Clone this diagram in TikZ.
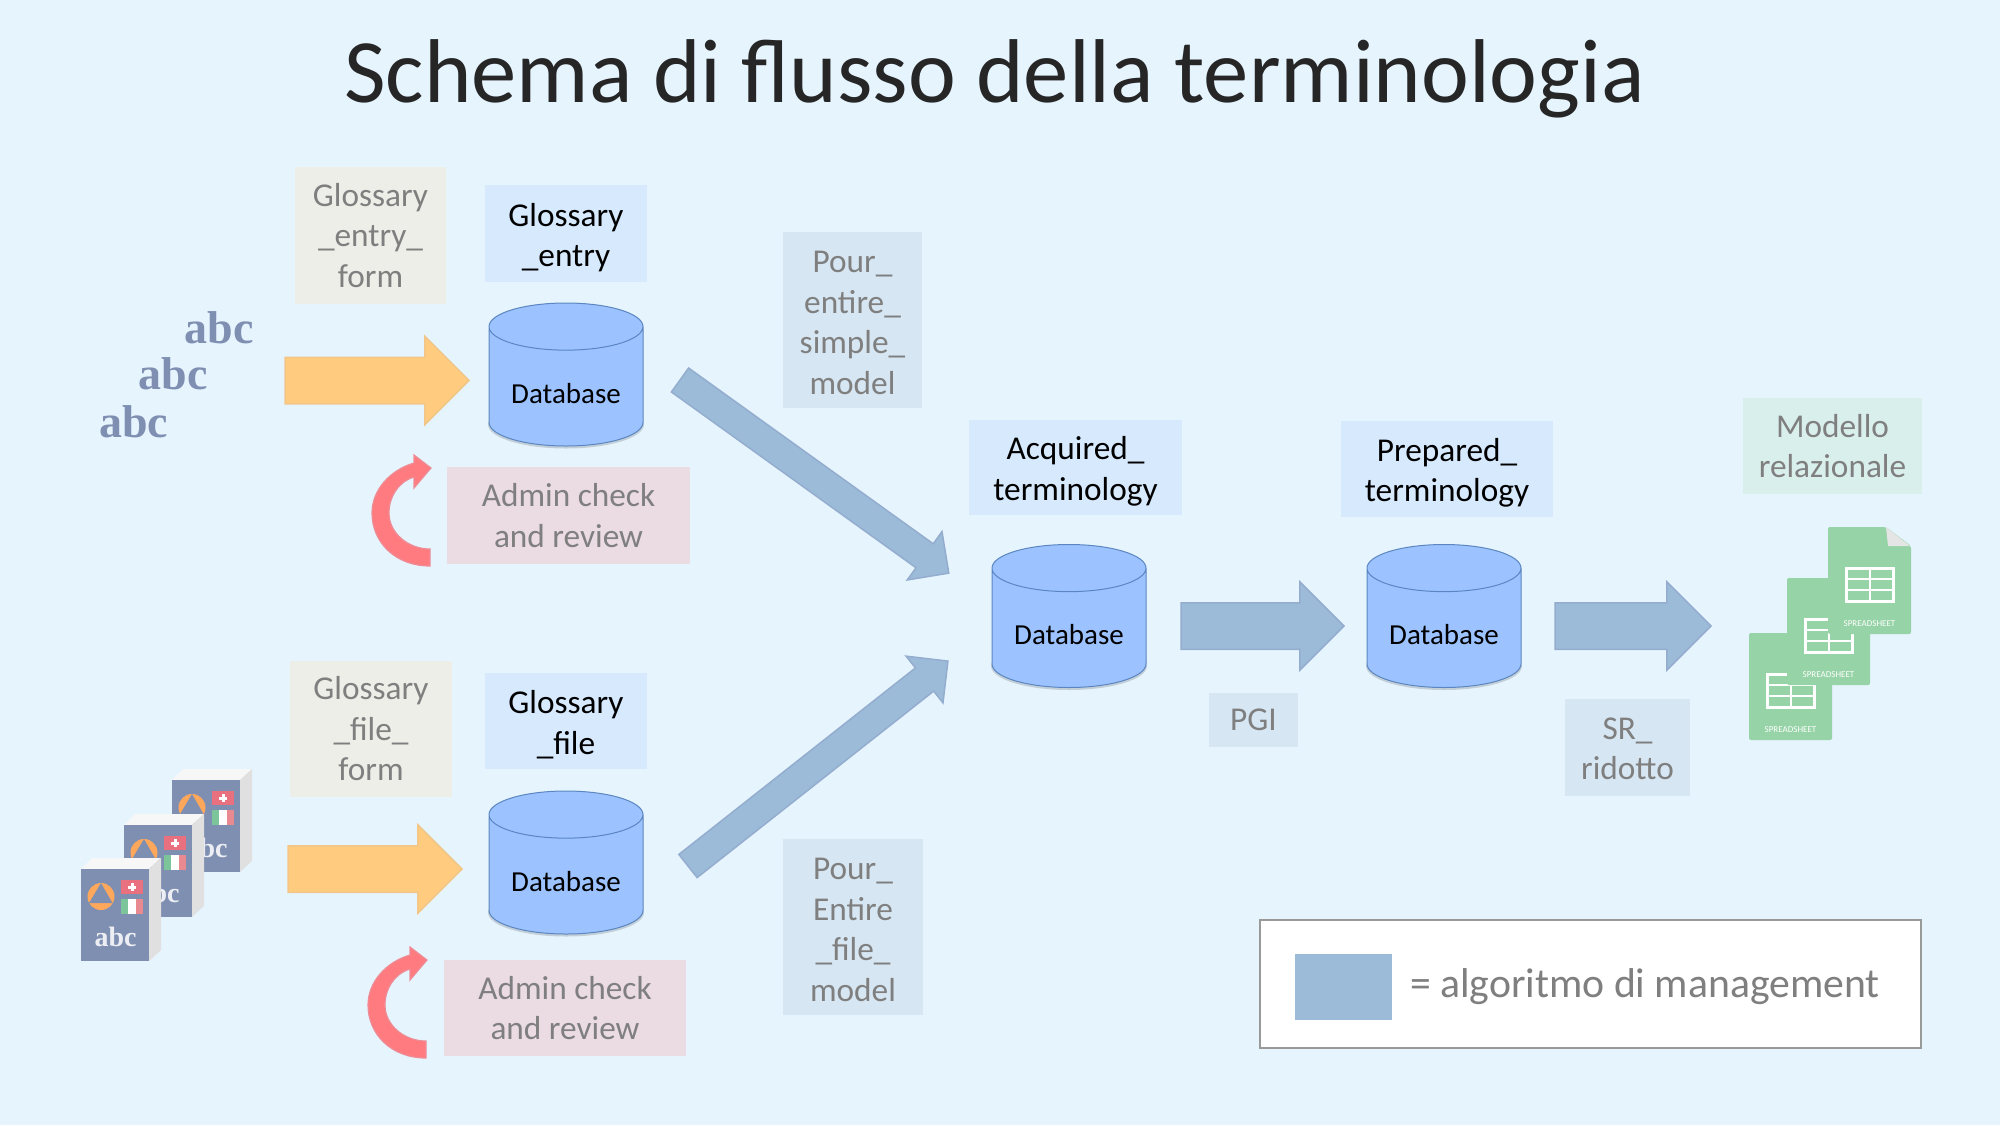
\documentclass[tikz,border=0pt]{standalone}
\usepackage{fontspec}
\setmainfont{Carlito}
\newfontfamily\abcfont{Liberation Serif}
\usetikzlibrary{shapes.geometric, shapes.arrows}
\definecolor{slidebg}{HTML}{E6F4FE}
\definecolor{txtgrey}{HTML}{7F7F7F}
\definecolor{algoblue}{HTML}{9BBBD8}
\definecolor{algoedge}{HTML}{94ADCE}
\definecolor{bookblue}{HTML}{7F8FB2}
\definecolor{sheetgreen}{HTML}{96D3A6}
\definecolor{formgrey}{HTML}{EDEEE8}
\definecolor{nameblue}{HTML}{D6E9FD}
\definecolor{pourblue}{HTML}{D6E6F2}
\definecolor{modelgreen}{HTML}{D9EFEC}
\definecolor{adminpink}{HTML}{EBDBE3}
\definecolor{dbblue}{HTML}{9CC3FF}
\definecolor{dbedge}{HTML}{5B86C0}
\definecolor{yellowfill}{HTML}{FFCC7F}
\definecolor{yellowedge}{HTML}{F2C688}
\definecolor{loopfill}{HTML}{FF7B80}
\definecolor{loopedge}{HTML}{EE8C96}
\definecolor{flagred}{HTML}{E8707F}
\definecolor{flaggreen}{HTML}{7CC59A}
\definecolor{flagpink}{HTML}{E88A8F}
\definecolor{ringorange}{HTML}{FFA85C}
\newcommand{\pushline}[1]{\rule{0pt}{#1pt}}
\tikzstyle{arrowbase} = [single arrow,inner xsep=0pt,outer sep=0pt,anchor=tail,line width=1.5pt]

\begin{document}
\begin{tikzpicture}
        [
            x=1pt,y=-1pt,
            lbl/.style={rectangle,align=center,inner sep=0pt,text=txtgrey,font=\fontsize{33.3}{40.5}\selectfont},
            formbox/.style={lbl,fill=#1},
            namebox/.style={lbl,fill=#1,text=black},
            dbase/.style={cylinder,shape border rotate=90,aspect=0.43,draw=dbedge,line width=1pt,anchor=shape center,
                cylinder uses custom fill,cylinder body fill=dbblue,cylinder end fill=dbblue,text height=34pt,
                minimum width=154pt,minimum height=143pt,inner sep=0pt,font=\fontsize{29}{35}\selectfont},
            yellowarrow/.style={arrowbase,draw=yellowedge,fill=yellowfill,inner ysep=22.5pt,single arrow head extend=21pt},
            bluearrow/.style={arrowbase,draw=algoedge,fill=algoblue,inner ysep=22.5pt,single arrow head extend=21pt},
            diagarrow/.style={arrowbase,draw=algoedge,fill=algoblue,inner ysep=14pt,single arrow head extend=15pt},
            loopback/.style={draw=loopedge,fill=loopfill,line width=1.2pt},
        ]

    \fill[slidebg] (0,0) rectangle (2000,1125);
    \useasboundingbox (0,0) rectangle (2000,1125);

    \node[font=\fontsize{90.6}{110}\selectfont,text=black!85] (title) at (994.5,78.5){Schema di flusso della terminologia};

    \node[formbox=formgrey,minimum width=151pt,minimum height=137pt] (entryform) at (370.5,235.5){Glossary\\\_entry\_\\form};
    \node[namebox=nameblue,minimum width=162pt,minimum height=97pt] (entryname) at (566,233.5){\pushline{31}Glossary\\\_entry};
    \node[formbox=pourblue,minimum width=139pt,minimum height=176pt] (pourentry) at (852.5,320){\pushline{27}Pour\_\\entire\_\\simple\_\\model};
    \node[namebox=nameblue,minimum width=213pt,minimum height=95pt] (acquiredname) at (1075.5,467.5){\pushline{31}Acquired\_\\terminology};
    \node[namebox=nameblue,minimum width=212pt,minimum height=96pt] (preparedname) at (1447,469){\pushline{31}Prepared\_\\terminology};
    \node[formbox=modelgreen,minimum width=179pt,minimum height=96pt] (modelname) at (1832.5,446){Modello\\relazionale};
    \node[formbox=adminpink,minimum width=243pt,minimum height=97pt] (adminentry) at (568.5,515.5){Admin check\\and review};
    \node[formbox=formgrey,minimum width=162pt,minimum height=136pt] (fileform) at (371,729){Glossary\\\_file\_\\form};
    \node[namebox=nameblue,minimum width=162pt,minimum height=96pt] (filename) at (566,721){\pushline{30}Glossary\\\_file};
    \node[formbox=adminpink,minimum width=242pt,minimum height=96pt] (adminfile) at (565,1008){Admin check\\and review};
    \node[formbox=pourblue,minimum width=140pt,minimum height=176pt] (pourfile) at (853,927){\pushline{27}Pour\_\\Entire\\\_file\_\\model};
    \node[formbox=pourblue,minimum width=89pt,minimum height=54pt] (pgi) at (1253.5,720){PGI};
    \node[formbox=pourblue,minimum width=125pt,minimum height=97pt] (srrid) at (1627.5,747.5){\pushline{24}SR\_\\ridotto};

    \foreach \cx/\cy in {566/374.5,566/862.5,1069/616,1444/616}
        \fill[black,opacity=0.15] (\cx,\cy+50) ellipse (78 and 24);

    \node[dbase] (dbentry) at (566,374.5){Database};
    \node[dbase] (dbfile) at (566,862.5){Database};
    \node[dbase] (dbacq) at (1069,616){Database};
    \node[dbase] (dbprep) at (1444,616){Database};

    \node[yellowarrow,minimum height=184pt] (inentry) at (285,380.5){};
    \node[yellowarrow,minimum height=174pt] (infile) at (288,869){};
    \node[bluearrow,minimum height=163pt] (pgiarrow) at (1181,626){};
    \node[bluearrow,minimum height=156pt] (srarrow) at (1555,626){};
    \node[diagarrow,minimum height=331pt,rotate=-35.7] (entryarrow) at (680,380){};
    \node[diagarrow,minimum height=331pt,rotate=38.25] (filearrow) at (688,866){};

    \foreach \dx/\dy in {0/0,-4/492}{
        \path[loopback,shift={(\dx,\dy)}] (430,566) .. controls (395,566) and (372,542) .. (372,513)
            .. controls (372,490) and (390,470) .. (414,463) -- (414,455) -- (431,468) -- (414,488) -- (414,477)
            .. controls (398,482) and (389,497) .. (389,513) .. controls (389,533) and (408,549) .. (430,549) -- cycle;
    }

    \foreach \ax/\ay/\an in {219/343/a,173/389/b,133.5/437/c}
        \node[anchor=base,inner sep=0pt,text=bookblue,font=\abcfont\bfseries\fontsize{46}{46}\selectfont] (word\an) at (\ax,\ay){abc};

    \foreach \bx/\by/\bn in {91/-89/c,43/-44/b,0/0/a}{
        \begin{scope}[shift={(\bx,\by)}]
            \fill[white!97!black] (81,869) -- (92,858) -- (161,858) -- (149,869) -- cycle;
            \fill[black!12] (149,869) -- (161,858) -- (161,950) -- (149,961) -- cycle;
            \fill[bookblue] (81,869) rectangle (149,961);
            \fill[ringorange] (101,896.5) circle (13.5);
            \fill[bookblue] (101,883) -- (89,903) -- (112.5,903) -- cycle;
            \fill[flagred] (121,880) rectangle (143,894);
            \fill[white] (130.5,883) rectangle (133.5,891);
            \fill[white] (128,885.5) rectangle (136,888.5);
            \fill[flaggreen] (121,899) rectangle (128.3,914);
            \fill[white] (128.3,899) rectangle (135.7,914);
            \fill[flagpink] (135.7,899) rectangle (143,914);
            \node[anchor=base,inner sep=0pt,text=white!85!bookblue,font=\abcfont\bfseries\fontsize{28}{28}\selectfont] (book\bn) at (115.5,946){abc};
        \end{scope}
    }

    \foreach \sx/\sy/\sn in {1749/633/c,1787/578/b,1828/527/a}{
        \begin{scope}[shift={(\sx,\sy)}]
            \fill[sheetgreen,rounded corners=2pt] (0,0) -- (58,0) -- (83,19) -- (83,107) -- (0,107) -- cycle;
            \fill[black!10] (58,0) -- (82,19) -- (60,19) -- cycle;
            \draw[white,line width=3pt] (18,41) rectangle (65,74);
            \draw[white,line width=2pt] (18,52) -- (65,52) (18,63) -- (65,63) (41.5,41) -- (41.5,74);
            \node[anchor=base,inner sep=0pt,text=white,font=\fontsize{9}{9}\selectfont] (sheet\sn) at (41.5,99){SPREADSHEET};
        \end{scope}
    }

    \node[rectangle,draw=black!40,line width=2pt,fill=white,minimum width=661pt,minimum height=128pt,inner sep=0pt] (legendbox) at (1590.5,984){};
    \node[rectangle,fill=algoblue,minimum width=97pt,minimum height=66pt,inner sep=0pt] (legendswatch) at (1343.5,987){};
    \node[anchor=west,inner sep=0pt,text=txtgrey,font=\fontsize{41.7}{50}\selectfont] (legendtext) at (1410,987){= algoritmo di management};
\end{tikzpicture}
\end{document}
